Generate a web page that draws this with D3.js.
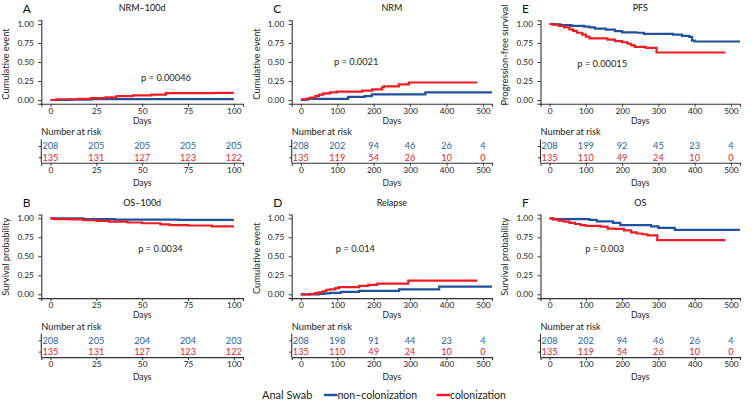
<!DOCTYPE html>
<html><head><meta charset="utf-8">
<script src="https://cdn.jsdelivr.net/npm/d3@7"></script>
<style>
html,body{margin:0;padding:0;background:#fff;}
svg{display:block;font-family:"Lato",sans-serif;}
</style></head>
<body><svg id="c" width="752" height="403"></svg>
<script>
// ---------------- DATA ----------------
const letters = ["A","B","C","D","E","F"];
const titles = ["NRM\u2013100d","OS\u2013100d","NRM","Relapse","PFS","OS"];
const yTitles = ["Cumulative event","Survival probability","Cumulative event","Cumulative event","Progression-free survival","Survival probability"];
const pLabels = ["p = 0.00046","p = 0.0034","p = 0.0021","p = 0.014","p = 0.00015","p = 0.003"];
const groupNames = ["non\u2013colonization","colonization"];
const legendTitle = "Anal Swab";
const ticks100 = [0,25,50,75,100];
const ticks500 = [0,100,200,300,400,500];
const yTicks = [0,0.25,0.5,0.75,1];

// curves: [day, value] step points
const curveA_non = [[0,0],[10,0.005],[22,0.012],[100,0.012]];
const curveA_col = [[0,0],[3,0.01],[15,0.015],[22,0.025],[30,0.035],[36,0.05],[45,0.06],[55,0.07],[63,0.09],[90,0.093],[100,0.093]];
const curveB_non = [[0,1],[18,0.99],[35,0.982],[70,0.978],[100,0.978]];
const curveB_col = [[0,1],[2,0.99],[10,0.985],[18,0.975],[25,0.965],[32,0.955],[42,0.945],[50,0.935],[60,0.92],[65,0.91],[75,0.905],[88,0.895],[100,0.895]];
const curveC_non = [[0,0],[8,0.005],[20,0.015],[130,0.04],[175,0.05],[195,0.075],[342,0.1],[525,0.1]];
const curveC_col = [[0,0.01],[15,0.02],[26,0.03],[40,0.05],[50,0.07],[62,0.088],[80,0.1],[99,0.11],[168,0.124],[196,0.14],[223,0.167],[228,0.18],[269,0.206],[297,0.23],[485,0.23]];
const curveD_non = [[0,0],[50,0.005],[65,0.012],[80,0.02],[110,0.032],[160,0.045],[270,0.065],[380,0.1],[525,0.1]];
const curveD_col = [[0,0],[25,0.005],[40,0.015],[50,0.025],[60,0.04],[70,0.06],[80,0.065],[95,0.08],[105,0.095],[160,0.11],[185,0.125],[210,0.14],[295,0.18],[485,0.18]];
const curveE_non = [[0,1],[15,0.995],[30,0.985],[60,0.975],[95,0.965],[110,0.955],[125,0.94],[155,0.925],[180,0.905],[200,0.89],[240,0.885],[260,0.87],[340,0.86],[365,0.845],[385,0.83],[393,0.78],[400,0.77],[525,0.77]];
const curveE_col = [[0,1],[8,0.99],[25,0.975],[40,0.955],[55,0.93],[65,0.91],[75,0.885],[90,0.86],[100,0.835],[110,0.81],[160,0.795],[180,0.775],[200,0.76],[215,0.74],[225,0.72],[235,0.70],[265,0.685],[295,0.625],[485,0.625]];
const curveF_non = [[0,1],[10,0.99],[110,0.98],[130,0.96],[175,0.94],[195,0.91],[280,0.895],[300,0.875],[345,0.848],[525,0.848]];
const curveF_col = [[0,1],[10,0.985],[25,0.97],[40,0.955],[55,0.94],[70,0.925],[85,0.91],[100,0.9],[140,0.89],[160,0.865],[180,0.86],[205,0.84],[225,0.815],[240,0.8],[255,0.79],[270,0.775],[297,0.712],[485,0.712]];

// number at risk
const riskA_non = [208,205,205,205,205];
const riskA_col = [135,131,127,123,122];
const riskB_non = [208,205,204,204,203];
const riskB_col = [135,131,127,123,122];
const riskC_non = [208,202,94,46,26,4];
const riskC_col = [135,119,54,26,10,0];
const riskD_non = [208,198,91,44,23,4];
const riskD_col = [135,110,49,24,10,0];
const riskE_non = [208,199,92,45,23,4];
const riskE_col = [135,110,49,24,10,0];
const riskF_non = [208,202,94,46,26,4];
const riskF_col = [135,119,54,26,10,0];

// p-value anchor in data coordinates [day, value]
const pAnchors = [[63,0.29],[60,0.605],[152,0.5],[150,0.605],[145,0.48],[152,0.605]];

// ---------------- LAYOUT ----------------
const BLUE = "#21509a", RED = "#ec1c24";
const BLUE_T = "#2b5e9d", RED_T = "#e8252a";
const AX = "#333";
const cols = [{x0:41.3,x1:243},{x0:291.7,x1:492},{x0:540.5,x1:740}];
const rowOff = [0,194.3];
const yTitleMid = [64,62.4,64,64,55,62.4];

const panels = [
  {c:0,r:0,max:100,ticks:ticks100,non:curveA_non,col:curveA_col,rn:riskA_non,rc:riskA_col},
  {c:0,r:1,max:100,ticks:ticks100,non:curveB_non,col:curveB_col,rn:riskB_non,rc:riskB_col},
  {c:1,r:0,max:500,ticks:ticks500,non:curveC_non,col:curveC_col,rn:riskC_non,rc:riskC_col},
  {c:1,r:1,max:500,ticks:ticks500,non:curveD_non,col:curveD_col,rn:riskD_non,rc:riskD_col},
  {c:2,r:0,max:500,ticks:ticks500,non:curveE_non,col:curveE_col,rn:riskE_non,rc:riskE_col},
  {c:2,r:1,max:500,ticks:ticks500,non:curveF_non,col:curveF_col,rn:riskF_non,rc:riskF_col},
];

const svg = d3.select("#c");
const TICKFS = 8.3;

panels.forEach((p,i)=>{
  const C = cols[p.c], off = rowOff[p.r];
  const g = svg.append("g").attr("transform",`translate(0,${off})`);
  const x = d3.scaleLinear().domain([-0.05*p.max,1.05*p.max]).range([C.x0,C.x1]);
  const y = d3.scaleLinear().domain([-0.05,1.05]).range([103.8,20.2]);
  const cx = (C.x0+C.x1)/2;

  // letter & title
  g.append("text").attr("x",C.x0-18.5).attr("y",8.5).attr("dy","0.36em")
    .attr("font-size",12).attr("fill","#111").text(letters[i]);
  g.append("text").attr("x",cx).attr("y",8.0).attr("dy","0.36em").attr("text-anchor","middle")
    .attr("font-size",9).attr("fill","#111").text(titles[i]);

  // axes
  const ya = g.append("g").attr("transform",`translate(${C.x0},0)`)
    .call(d3.axisLeft(y).tickValues(yTicks).tickFormat(d3.format(".2f")).tickSize(3).tickPadding(4.5));
  const xa = g.append("g").attr("transform",`translate(0,103.8)`)
    .call(d3.axisBottom(x).tickValues(p.ticks).tickFormat(d3.format("d")).tickSize(3).tickPadding(1));
  [ya,xa].forEach(a=>{
    a.select(".domain").attr("stroke",AX).attr("stroke-width",1.1);
    a.selectAll(".tick line").attr("stroke",AX).attr("stroke-width",1);
    a.selectAll("text").attr("font-size",TICKFS).attr("fill","#222").attr("font-family","Lato");
  });
  g.append("text").attr("x",cx).attr("y",121).attr("dy","0.36em").attr("text-anchor","middle")
    .attr("font-size",8.5).attr("fill","#222").text("Days");
  g.append("text").attr("transform",`translate(${C.x0-35.5},${yTitleMid[i]}) rotate(-90)`).attr("dy","0.36em")
    .attr("text-anchor","middle").attr("font-size",9.3).attr("fill","#222").text(yTitles[i]);

  // curves
  const line = d3.line().x(d=>x(d[0])).y(d=>y(d[1])).curve(d3.curveStepAfter);
  g.append("path").datum(p.non).attr("d",line).attr("fill","none").attr("stroke",BLUE).attr("stroke-width",2.2);
  g.append("path").datum(p.col).attr("d",line).attr("fill","none").attr("stroke",RED).attr("stroke-width",2.2);

  // p-value
  g.append("text").attr("x",x(pAnchors[i][0])).attr("y",y(pAnchors[i][1])).attr("dy","0.36em")
    .attr("text-anchor","middle").attr("font-size",9.3).attr("fill","#222").text(pLabels[i]);

  // risk table
  g.append("text").attr("x",C.x0).attr("y",132).attr("dy","0.36em")
    .attr("font-size",9.3).attr("fill","#222").text("Number at risk");
  const ty = d3.scalePoint().domain(["non","col"]).range([146,157.3]);
  const tya = g.append("g").attr("transform",`translate(${C.x0},0)`)
    .call(d3.axisLeft(ty).tickSize(2.5).tickFormat(""));
  tya.select(".domain").attr("d",`M-0,139.5V162.8`);
  const txa = g.append("g").attr("transform",`translate(0,162.8)`)
    .call(d3.axisBottom(x).tickValues(p.ticks).tickFormat(d3.format("d")).tickSize(3).tickPadding(1.5));
  [tya,txa].forEach(a=>{
    a.select(".domain").attr("stroke",AX).attr("stroke-width",1.1).attr("fill","none");
    a.selectAll(".tick line").attr("stroke",AX).attr("stroke-width",1);
    a.selectAll("text").attr("font-size",TICKFS).attr("fill","#222").attr("font-family","Lato");
  });
  g.append("text").attr("x",cx).attr("y",183).attr("dy","0.36em").attr("text-anchor","middle")
    .attr("font-size",8.5).attr("fill","#222").text("Days");
  g.selectAll("text.rn").data(p.rn).enter().append("text").attr("class","rn")
    .attr("x",(d,k)=>x(p.ticks[k])).attr("y",ty("non")).attr("dy","0.36em").attr("text-anchor","middle")
    .attr("font-size",9.2).attr("fill",BLUE_T).text(d=>d);
  g.selectAll("text.rc").data(p.rc).enter().append("text").attr("class","rc")
    .attr("x",(d,k)=>x(p.ticks[k])).attr("y",ty("col")).attr("dy","0.36em").attr("text-anchor","middle")
    .attr("font-size",9.2).attr("fill",RED_T).text(d=>d);
});

// legend
const lg = svg.append("g");
lg.append("text").attr("x",262).attr("y",395).attr("dy","0.36em").attr("font-size",11).attr("fill","#222").text(legendTitle);
lg.append("line").attr("x1",324).attr("x2",337.5).attr("y1",395).attr("y2",395).attr("stroke",BLUE).attr("stroke-width",2.4);
lg.append("text").attr("x",337.5).attr("y",395).attr("dy","0.36em").attr("font-size",10.5).attr("fill","#222").text(groupNames[0]);
lg.append("line").attr("x1",436.5).attr("x2",450).attr("y1",395).attr("y2",395).attr("stroke",RED).attr("stroke-width",2.4);
lg.append("text").attr("x",450).attr("y",395).attr("dy","0.36em").attr("font-size",10.5).attr("fill","#222").text(groupNames[1]);
</script></body></html>
